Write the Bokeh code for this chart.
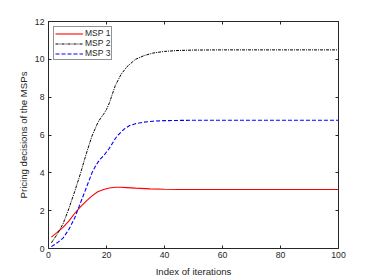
from bokeh.plotting import figure
from bokeh.models import LinearAxis, Range1d, FixedTicker, Legend, LegendItem, CustomLabelingPolicy
from bokeh.embed import file_html
from bokeh.resources import INLINE

# MSP 1 (red, solid)
x1 = [1, 3, 5, 7, 9, 11, 13, 15, 17, 19, 21, 23, 25, 27, 30, 35, 40, 45, 50, 60, 70, 80, 90, 100]
y1 = [0.6, 0.85, 1.12, 1.45, 1.85, 2.2, 2.5, 2.78, 3.0, 3.12, 3.2, 3.24, 3.24, 3.22, 3.19, 3.15, 3.13, 3.12, 3.12, 3.12, 3.12, 3.12, 3.12, 3.12]
# MSP 2 (black, dash-dot)
x2 = [1, 3, 5, 7, 9, 11, 13, 15, 17, 18, 19, 20, 21, 22, 23, 24, 25, 27, 30, 33, 36, 40, 45, 50, 60, 70, 80, 90, 100]
y2 = [0.3, 0.75, 1.3, 2.1, 3.0, 3.95, 5.0, 5.95, 6.65, 6.9, 7.1, 7.35, 7.7, 8.15, 8.6, 8.9, 9.2, 9.6, 10.0, 10.2, 10.33, 10.42, 10.47, 10.49, 10.5, 10.5, 10.5, 10.5, 10.5]
# MSP 3 (blue, dashed)
x3 = [1, 3, 5, 7, 9, 10, 11, 12, 13, 14, 15, 16, 17, 18, 19, 20, 21, 22, 23, 24, 25, 26, 28, 30, 33, 36, 40, 50, 60, 70, 80, 90, 100]
y3 = [0.1, 0.3, 0.55, 1.0, 1.6, 2.0, 2.4, 2.8, 3.2, 3.6, 4.0, 4.3, 4.55, 4.75, 4.9, 5.1, 5.3, 5.55, 5.8, 6.0, 6.15, 6.3, 6.5, 6.6, 6.68, 6.73, 6.76, 6.78, 6.78, 6.78, 6.78, 6.78, 6.78]

labels = ["MSP 1", "MSP 2", "MSP 3"]
x_ticks = [0, 20, 40, 60, 80, 100]
y_ticks = [0, 2, 4, 6, 8, 10, 12]

FONT = "Liberation Sans"
GREY = "#262626"

p = figure(width=370, height=279, output_backend="svg", toolbar_location=None,
           x_range=Range1d(0, 100), y_range=Range1d(0, 12),
           min_border_left=48, min_border_right=32, min_border_top=21, min_border_bottom=30)
p.grid.visible = False
p.outline_line_color = None

r1 = p.line(x1, y1, line_color="#ff0000", line_width=1.1)
r2 = p.line(x2, y2, line_color="#000000", line_width=1, line_dash="3 1 1 1")
r3 = p.line(x3, y3, line_color="#0000ff", line_width=1.1, line_dash="4 2")

xa = p.xaxis[0]
xa.ticker = FixedTicker(ticks=x_ticks)
ya = p.yaxis[0]
ya.ticker = FixedTicker(ticks=y_ticks)
xa.axis_label = "Index of iterations"
ya.axis_label = "Pricing decisions of the MSPs"

top = LinearAxis(ticker=FixedTicker(ticks=x_ticks))
right = LinearAxis(ticker=FixedTicker(ticks=y_ticks))
p.add_layout(top, "above")
p.add_layout(right, "right")

hide = """
const n = indices.size;
for (let i = 0; i < n; i++) { indices.unset(i); }
return indices;
"""

for ax, show in ((xa, True), (ya, True), (top, False), (right, False)):
    ax.axis_line_color = GREY
    ax.major_tick_line_color = GREY
    ax.major_tick_in = 3
    ax.major_tick_out = 0
    ax.minor_tick_line_color = None
    ax.major_label_text_font = FONT
    ax.major_label_text_font_size = "8.7px"
    ax.major_label_text_color = GREY
    ax.major_label_standoff = 3
    ax.axis_label_text_font = FONT
    ax.axis_label_text_font_size = "9.6px"
    ax.axis_label_text_font_style = "normal"
    ax.axis_label_text_color = GREY
    ax.axis_label_standoff = 3
    if not show:
        ax.major_label_policy = CustomLabelingPolicy(code=hide)
        ax.major_label_standoff = 0

xa.major_label_standoff = 3
xa.axis_label_standoff = 5
ya.major_label_standoff = 4
ya.axis_label_standoff = 3

legend = Legend(items=[LegendItem(label=labels[0], renderers=[r1]),
                       LegendItem(label=labels[1], renderers=[r2]),
                       LegendItem(label=labels[2], renderers=[r3])],
                location="top_left")
legend.margin = 5
legend.padding = 1
legend.spacing = 0
legend.glyph_width = 28
legend.glyph_height = 9
legend.label_height = 9
legend.label_standoff = 2
legend.label_text_font = FONT
legend.label_text_font_size = "8.5px"
legend.label_text_color = GREY
legend.border_line_color = GREY
legend.border_line_width = 0.6
legend.background_fill_color = "white"
legend.background_fill_alpha = 1
p.add_layout(legend)

open("out.html", "w").write(file_html(p, INLINE))
